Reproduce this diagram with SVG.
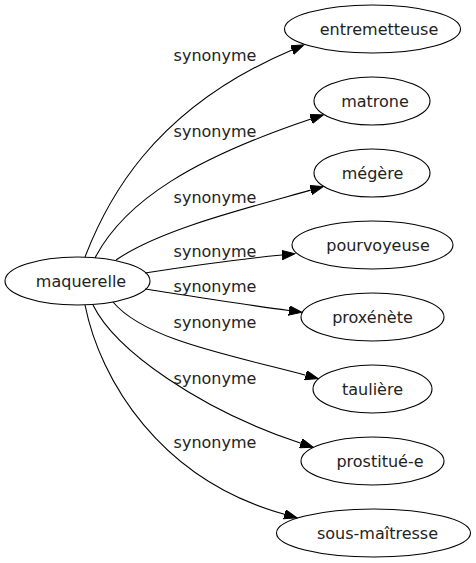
<svg xmlns="http://www.w3.org/2000/svg" width="476" height="563" viewBox="0 0 476 563">
<style>
.node ellipse{fill:none;stroke:#000;stroke-width:1.1}
.node text{font-family:"DejaVu Sans",sans-serif;font-size:16px;fill:#222;text-anchor:middle}
.edge path{fill:none;stroke:#000;stroke-width:1.1;marker-end:url(#arr)}
.lbl{font-family:"DejaVu Sans",sans-serif;font-size:16px;fill:#222;text-anchor:middle}
</style>
<defs>
<marker id="arr" markerUnits="userSpaceOnUse" markerWidth="14" markerHeight="10" refX="0" refY="4.7" orient="auto">
<path d="M0,0 L13,4.7 L0,9.4 z" fill="#000" stroke="#000" stroke-width="1"/>
</marker>
</defs>
<rect width="476" height="563" fill="#fff"/>
<g id="edges" class="edge">
<path d="M85,257 C105,205 150,110 292,50"/>
<path d="M95,258 C125,200 195,158 311,119"/>
<path d="M116,260 C160,230 240,210 310.7,190.1"/>
<path d="M145,273 C190,266 240,259 282,255"/>
<path d="M145,289 C190,296 240,304 289,310.5"/>
<path d="M113,302 C145,340 230,355 305.6,375.2"/>
<path d="M93,305 C115,350 200,410 300.9,443.3"/>
<path d="M85,305 C100,380 160,480 284.5,514.3"/>
<text class="lbl" x="215" y="61">synonyme</text>
<text class="lbl" x="215" y="137">synonyme</text>
<text class="lbl" x="215" y="203">synonyme</text>
<text class="lbl" x="215" y="257">synonyme</text>
<text class="lbl" x="215" y="292">synonyme</text>
<text class="lbl" x="215" y="328">synonyme</text>
<text class="lbl" x="215" y="384">synonyme</text>
<text class="lbl" x="215" y="448">synonyme</text>
</g>
<g id="maquerelle" class="node"><ellipse cx="77.5" cy="281" rx="72.5" ry="24"/><text x="81" y="286.5">maquerelle</text></g>
<g id="entremetteuse" class="node"><ellipse cx="372.5" cy="29" rx="88" ry="24"/><text x="379" y="34.5">entremetteuse</text></g>
<g id="matrone" class="node"><ellipse cx="372" cy="101" rx="58" ry="24"/><text x="375" y="106.5">matrone</text></g>
<g id="megere" class="node"><ellipse cx="372" cy="173" rx="58" ry="24"/><text x="372.5" y="178.5">mégère</text></g>
<g id="pourvoyeuse" class="node"><ellipse cx="372.5" cy="245" rx="80.5" ry="24"/><text x="378" y="250.5">pourvoyeuse</text></g>
<g id="proxenete" class="node"><ellipse cx="372.5" cy="317" rx="71.5" ry="24"/><text x="372.5" y="322.5">proxénète</text></g>
<g id="tauliere" class="node"><ellipse cx="372.5" cy="389" rx="59.5" ry="24"/><text x="372.5" y="394.5">taulière</text></g>
<g id="prostituee" class="node"><ellipse cx="372.5" cy="461" rx="71.5" ry="24"/><text x="380" y="466.5">prostitué-e</text></g>
<g id="sous-maitresse" class="node"><ellipse cx="373.5" cy="533" rx="97" ry="24"/><text x="377.5" y="538.5">sous-maîtresse</text></g>
</svg>
